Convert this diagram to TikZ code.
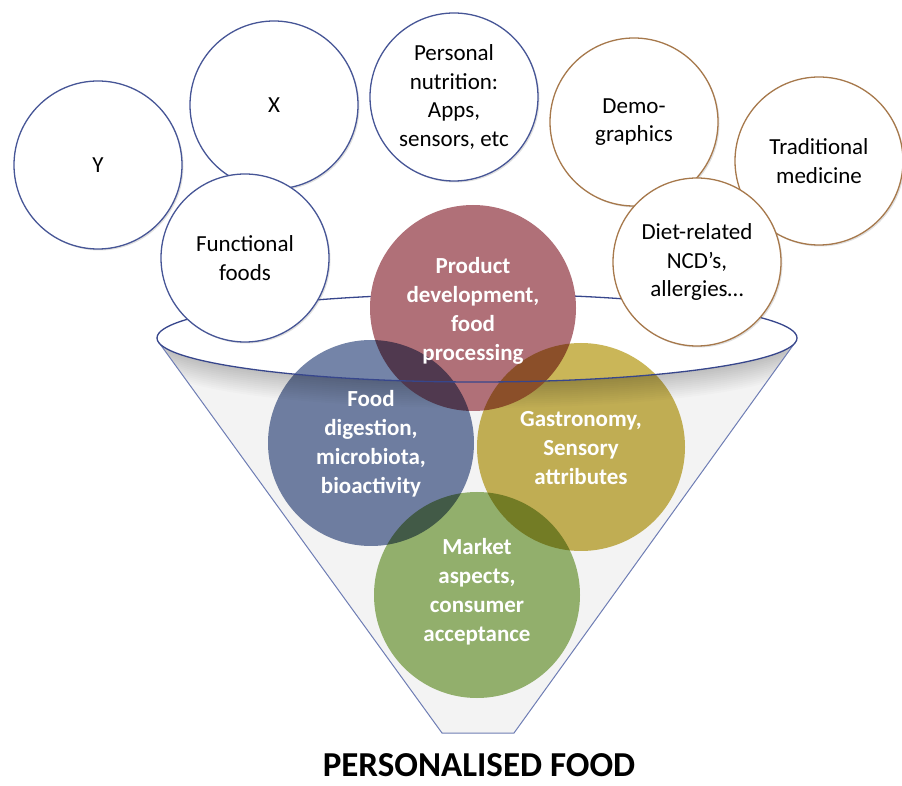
\documentclass[tikz,border=0pt]{standalone}
\usepackage{fontspec}
\setmainfont{Carlito}
\usetikzlibrary{shadows}
\definecolor{bubbleblue}{RGB}{70,85,150}
\definecolor{bubblebrown}{RGB}{166,120,75}
\definecolor{rimblue}{RGB}{55,70,140}
\definecolor{coneline}{RGB}{110,125,180}
\definecolor{conegray}{RGB}{243,243,243}
\definecolor{fieldred}{RGB}{176,112,120}
\definecolor{fieldblue}{RGB}{116,132,168}
\definecolor{fieldyellow}{RGB}{202,182,88}
\definecolor{fieldgreen}{RGB}{154,184,114}
\tikzset{
    bubble/.style={% white circles round the funnel
        circle, draw=#1, line width=1.3pt, fill=white,
        minimum size=168pt, inner sep=0pt, align=center,
        font=\fontsize{23}{28.5}\selectfont,
        drop shadow={opacity=0.25, shadow xshift=1.5pt, shadow yshift=-1.5pt}},
    field/.style={% coloured circles inside the funnel
        fill=#1, blend mode=multiply},
    field text/.style={% white bold text on the coloured circles
        align=center, text=white, inner sep=0pt,
        font=\fontsize{23}{29}\selectfont\bfseries},
    rim/.style={% funnel outline
        draw=rimblue, line width=1.3pt}}

\begin{document}
\begin{tikzpicture}[x=1pt,y=1pt]
\useasboundingbox (0,0) rectangle (902,785);
% funnel body
\coordinate (rim) at (477,447);
\coordinate (rim left) at (157,447);
\coordinate (rim right) at (797,447);
\coordinate (top left) at (160,441);
\coordinate (top right) at (794,441);
\coordinate (bottom left) at (442,52);
\coordinate (bottom right) at (514,52);
\fill[conegray] (top left) -- (bottom left) -- (bottom right) -- (top right) -- cycle;
\begin{scope}
    \clip (top left) -- (bottom left) -- (bottom right) -- (top right) -- cycle;
    \foreach \d in {0,2,...,26}
        \fill[black, opacity=0.016] (477,447-\d) ellipse [x radius=320, y radius=44];
\end{scope}
\draw[coneline, line width=1pt] (top left) -- (bottom left) -- (bottom right) -- (top right);
\fill[white] (rim) ellipse [x radius=320, y radius=44];
\draw[rim] (rim left) arc [start angle=180, end angle=0, x radius=320, y radius=44];
% white circles
\node[bubble=bubbleblue] (y) at (98,620) {Y};
\node[bubble=bubbleblue] (x) at (274,680) {X};
\node[bubble=bubbleblue] (personal) at (454,688) {Personal\\nutrition:\\Apps,\\sensors, etc};
\node[bubble=bubbleblue] (functional) at (245,527) {Functional\\foods};
\node[bubble=bubblebrown] (demo) at (634,663) {Demo-\\graphics};
\node[bubble=bubblebrown] (traditional) at (819,624) {Traditional\\medicine};
\node[bubble=bubblebrown] (diet) at (697,523) {Diet-related\\NCD’s,\\allergies…};
% coloured circles
\fill[fieldred] (473,477) circle (103);
\begin{scope}
    \fill[field=fieldblue] (371,342) circle (103);
    \fill[field=fieldyellow] (581,338) circle (104);
    \fill[field=fieldgreen] (477,190) circle (103);
\end{scope}
\draw[rim] (rim left) arc [start angle=180, end angle=360, x radius=320, y radius=44];
\node[field text] (product) at (473,474) {Product\\development,\\food\\processing};
\node[field text] (digestion) at (371,341) {Food\\digestion,\\microbiota,\\bioactivity};
\node[field text] (gastronomy) at (581,337) {Gastronomy,\\Sensory\\attributes};
\node[field text] (market) at (477,193) {Market\\aspects,\\consumer\\acceptance};
\node[inner sep=0pt, font=\fontsize{35}{40}\selectfont\bfseries] (title) at (479,20) {PERSONALISED FOOD};
\end{tikzpicture}
\end{document}
